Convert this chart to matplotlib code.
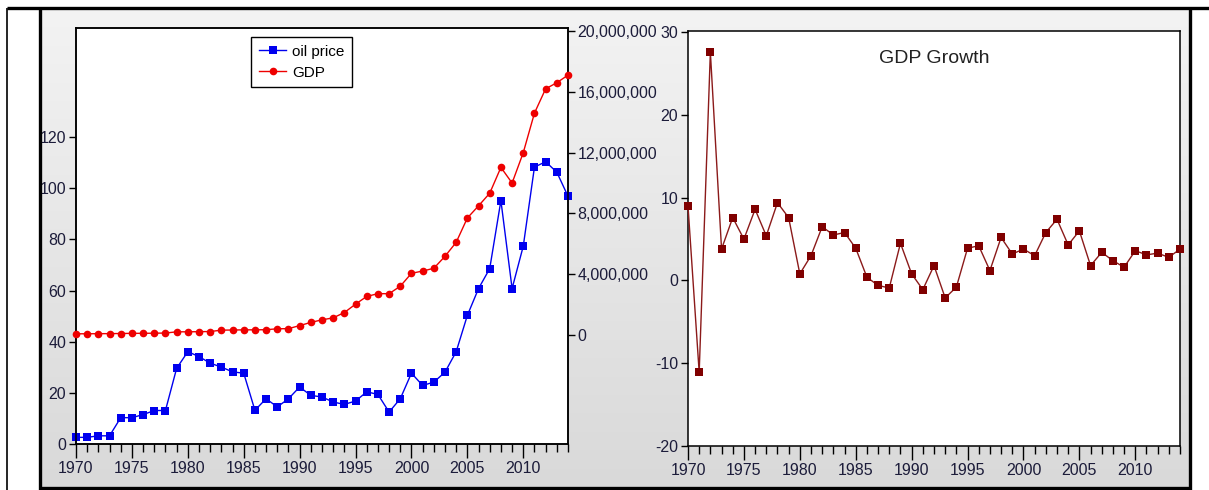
import matplotlib
matplotlib.use("Agg")
import matplotlib.pyplot as plt
import numpy as np
from matplotlib.lines import Line2D
from matplotlib.ticker import FuncFormatter, MultipleLocator
from matplotlib import font_manager
from matplotlib.colors import LinearSegmentedColormap

years = list(range(1970, 2015))

oil_price = [2.6, 2.6, 3.2, 3.2, 10.3, 10.3, 11.5, 13.1, 13.1, 29.6,
             36.1, 34.2, 31.6, 30.1, 28.2, 27.7, 13.2, 17.7, 14.5, 17.7,
             22.3, 19.0, 18.4, 16.4, 15.5, 16.8, 20.4, 19.4, 12.5, 17.7,
             27.7, 22.9, 24.2, 28.1, 36.1, 50.3, 60.8, 68.6, 95.2, 60.8,
             77.4, 108.3, 110.4, 106.3, 96.9]

gdp = [80000, 82000, 88000, 92000, 100000, 110000, 112000, 120000, 130000, 210000,
       212000, 220000, 230000, 320000, 330000, 340000, 342000, 350000, 410000, 420000,
       620000, 830000, 1000000, 1130000, 1480000, 2030000, 2540000, 2720000, 2720000, 3210000,
       4060000, 4210000, 4390000, 5180000, 6100000, 7700000, 8500000, 9330000, 11030000, 10000000,
       12000000, 14600000, 16200000, 16600000, 17100000]

gdp_growth = [9.0, -11.1, 27.6, 3.8, 7.6, 5.0, 8.6, 5.4, 9.4, 7.6,
              0.8, 3.0, 6.5, 5.5, 5.8, 3.9, 0.4, -0.6, -0.9, 4.5,
              0.8, -1.1, 1.8, -2.1, -0.8, 3.9, 4.2, 1.2, 5.2, 3.2,
              3.8, 3.0, 5.8, 7.4, 4.3, 6.0, 1.8, 3.4, 2.4, 1.6,
              3.6, 3.1, 3.3, 2.8, 3.8]

left_ticks = [0, 20, 40, 60, 80, 100, 120]
right_ticks = [0, 4000000, 8000000, 12000000, 16000000, 20000000]
growth_ticks = [-20, -10, 0, 10, 20, 30]
year_ticks = [1970, 1975, 1980, 1985, 1990, 1995, 2000, 2005, 2010]

avail = {f.name for f in font_manager.fontManager.ttflist}
fam = 'Liberation Sans Narrow' if 'Liberation Sans Narrow' in avail else 'Liberation Sans'
plt.rcParams['font.family'] = [fam, 'DejaVu Sans']
plt.rcParams['axes.unicode_minus'] = False

W, H = 1209, 490
fig = plt.figure(figsize=(W / 100, H / 100), dpi=100)
fig.patch.set_facecolor('white')

def fx(px):
    return px / W

def fy(py):
    return 1 - py / H

# gray gradient panel
bg = fig.add_axes([fx(41), fy(488), fx(1190 - 41), (488 - 9) / H], zorder=-10)
grad = np.linspace(0, 1, 256).reshape(-1, 1)
cmap = LinearSegmentedColormap.from_list('g', ['#f3f3f3', '#d9d9d9'])
bg.imshow(grad, aspect='auto', cmap=cmap, extent=[0, 1, 0, 1], origin='upper')
bg.set_axis_off()

tick_color = '#1c1c3a'
fs = 11.5

def style_x(ax):
    ax.set_xlim(1970, 2014)
    ax.set_xticks(year_ticks)
    ax.xaxis.set_minor_locator(MultipleLocator(1))
    ax.tick_params(axis='x', which='major', direction='out', length=10, width=1,
                   labelsize=fs, labelcolor=tick_color, pad=2)
    ax.tick_params(axis='x', which='minor', direction='out', length=6, width=1)

# ---- left chart ----
ax = fig.add_axes([fx(76), fy(444), fx(568 - 76), (444 - 28) / H])
ax.set_facecolor('white')
ax.set_ylim(0, 162.7)
ax.set_yticks(left_ticks)
ax.tick_params(axis='y', direction='out', length=5, width=1, labelsize=fs,
               labelcolor=tick_color, pad=2)
style_x(ax)
for s in ax.spines.values():
    s.set_linewidth(1.1)

ax2 = ax.twinx()
ax2.set_ylim(-7170000, 20200000)
ax2.set_yticks(right_ticks)
ax2.yaxis.set_major_formatter(FuncFormatter(lambda v, p: f"{int(round(v)):,}"))
ax2.tick_params(axis='y', direction='out', length=5, width=1, labelsize=fs,
                labelcolor=tick_color, pad=2)
for s in ax2.spines.values():
    s.set_linewidth(1.1)

l1, = ax.plot(years, oil_price, color='#0000ee', lw=1.0, marker='s', ms=5.5,
              markeredgewidth=0, clip_on=False, zorder=3)
l2, = ax2.plot(years, gdp, color='#ee0000', lw=1.0, marker='o', ms=5.5,
               markeredgewidth=0, clip_on=False, zorder=3)

leg = ax2.legend([l1, l2], ['oil price', 'GDP'], loc='upper left',
                 bbox_to_anchor=(0.356, 0.978), borderaxespad=0, fancybox=False,
                 edgecolor='black', framealpha=1, fontsize=11, handlelength=1.8,
                 handletextpad=0.4, borderpad=0.5, labelspacing=0.45)
leg.get_frame().set_linewidth(1.0)

# ---- right chart ----
bx = fig.add_axes([fx(688), fy(446), fx(1180 - 688), (446 - 31) / H])
bx.set_facecolor('white')
bx.set_ylim(-20, 30.15)
bx.set_yticks(growth_ticks)
bx.tick_params(axis='y', direction='out', length=5, width=1, labelsize=fs,
               labelcolor=tick_color, pad=2)
style_x(bx)
for s in bx.spines.values():
    s.set_linewidth(1.1)
bx.plot(years, gdp_growth, color='#8b1a1a', lw=1.0, marker='s', ms=6,
        markerfacecolor='#800000', markeredgewidth=0, clip_on=False, zorder=3)
bx.text(0.5, 0.955, 'GDP Growth', transform=bx.transAxes, ha='center', va='top',
        fontsize=14, color='#222222')

# ---- frame lines ----
def hline(y, x0, x1, lw):
    fig.add_artist(Line2D([fx(x0), fx(x1)], [fy(y), fy(y)], color='black',
                          lw=lw, solid_capstyle='butt'))

def vline(x, y0, y1, lw):
    fig.add_artist(Line2D([fx(x), fx(x)], [fy(y0), fy(y1)], color='black',
                          lw=lw, solid_capstyle='butt'))

hline(8.5, 7, 1209, 2.4)
vline(7, 8, 490, 1.2)
vline(40, 8, 489.5, 2.4)
hline(488, 39, 1191, 2.4)
vline(1190, 8, 489.5, 2.4)

fig.savefig('out.png', dpi=100)
